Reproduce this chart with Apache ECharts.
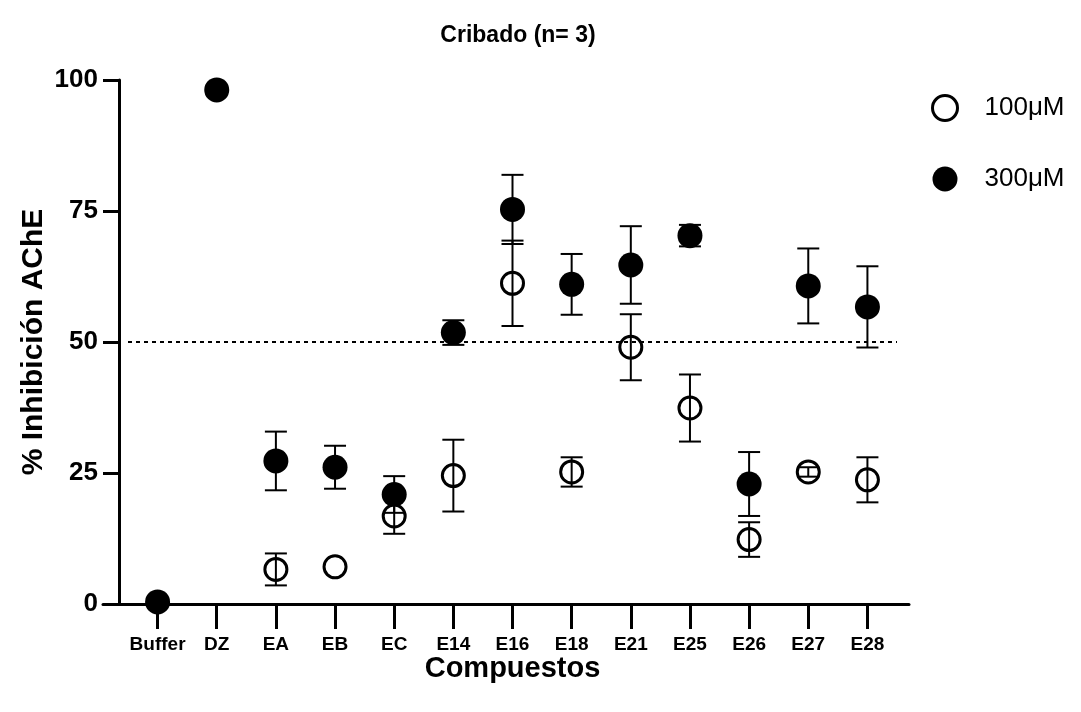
<!DOCTYPE html>
<html>
<head>
<meta charset="utf-8">
<script src="https://cdn.jsdelivr.net/npm/echarts@6/dist/echarts.min.js"></script>
<style>html,body{margin:0;padding:0;background:#fff}#c{width:1081px;height:712px}</style>
</head>
<body>
<div id="c"></div>
<script>
const categories = ['Buffer','DZ','EA','EB','EC','E14','E16','E18','E21','E25','E26','E27','E28'];
const mean100 = [null, null, 6.6, 7.1, 16.8, 24.5, 61.2, 25.2, 49.0, 37.4, 12.3, 25.2, 23.7];
const sd100   = [null, null, 3.05, 0, 3.4, 6.85, 8.15, 2.8, 6.3, 6.4, 3.3, 0.9, 4.3];
const mean300 = [0.4, 98.1, 27.3, 26.1, 20.9, 51.8, 75.3, 61.0, 64.7, 70.3, 22.9, 60.7, 56.7];
const sd300   = [0, 0, 5.6, 4.1, 3.5, 2.35, 6.6, 5.8, 7.4, 2.05, 6.1, 7.15, 7.75];
const yTicks = [0, 25, 50, 75, 100];
const refLine = 50;
const seriesNames = ['100\u03BCM', '300\u03BCM'];

const FONT = '"Liberation Sans", Arial, sans-serif';

function errData(means, sds) {
  const out = [];
  means.forEach((m, i) => {
    if (m != null && sds[i]) out.push([i, m - sds[i], m + sds[i]]);
  });
  return out;
}

function renderErr(params, api) {
  const x = api.value(0);
  const lo = api.coord([x, api.value(1)]);
  const hi = api.coord([x, api.value(2)]);
  const hw = 11;
  const st = { stroke: '#000', lineWidth: 2 };
  return {
    type: 'group',
    children: [
      { type: 'line', shape: { x1: lo[0], y1: lo[1], x2: hi[0], y2: hi[1] }, style: st },
      { type: 'line', shape: { x1: lo[0] - hw, y1: lo[1], x2: lo[0] + hw, y2: lo[1] }, style: st },
      { type: 'line', shape: { x1: hi[0] - hw, y1: hi[1], x2: hi[0] + hw, y2: hi[1] }, style: st }
    ]
  };
}

const chart = echarts.init(document.getElementById('c'), null, { renderer: 'canvas' });
chart.setOption({
  backgroundColor: '#fff',
  animation: false,
  title: {
    text: 'Cribado (n= 3)',
    left: 513, top: 19, textAlign: 'center',
    textStyle: { fontFamily: FONT, fontWeight: 'bold', fontSize: 23, color: '#000' }
  },
  legend: {
    orient: 'vertical',
    left: 931, top: 94,
    itemWidth: 25, itemHeight: 25, itemGap: 44,
    padding: 0,
    selectedMode: false,
    textStyle: { fontFamily: FONT, fontSize: 26, color: '#000', padding: [0, 0, 0, 22] },
    data: [
      { name: seriesNames[0], icon: 'circle', itemStyle: { color: '#fff', borderColor: '#000', borderWidth: 3 } },
      { name: seriesNames[1], icon: 'circle', itemStyle: { color: '#000', borderWidth: 0 } }
    ]
  },
  grid: [
    { left: 128, right: 184, top: 80, bottom: 108 },
    { left: 103, right: 172, top: 80, bottom: 108 }
  ],
  xAxis: [
    {
      type: 'category', gridIndex: 0, data: categories, boundaryGap: true,
      axisLine: { show: false },
      axisTick: { show: true, alignWithLabel: true, interval: 0, length: 25, lineStyle: { color: '#000', width: 3 } },
      axisLabel: { interval: 0, margin: 31, fontFamily: FONT, fontWeight: 'bold', fontSize: 19, color: '#000' },
      name: 'Compuestos', nameLocation: 'middle', nameGap: 50, nameMoveOverlap: false,
      nameTextStyle: { fontFamily: FONT, fontWeight: 'bold', fontSize: 29, color: '#000' }
    },
    {
      type: 'value', gridIndex: 1, min: 0, max: 1,
      axisLine: { show: true, lineStyle: { color: '#000', width: 3 } },
      axisTick: { show: false }, axisLabel: { show: false }, splitLine: { show: false }
    }
  ],
  yAxis: [
    {
      type: 'value', gridIndex: 0, min: 0, max: 100, interval: 25, offset: 9,
      axisLine: { show: true, lineStyle: { color: '#000', width: 3 } },
      axisTick: { show: true, length: 16, lineStyle: { color: '#000', width: 3 } },
      axisLabel: { margin: 21, fontFamily: FONT, fontWeight: 'bold', fontSize: 26, color: '#000',
                   formatter: v => yTicks.includes(v) ? String(v) : '' },
      splitLine: { show: false },
      name: '% Inhibición AChE', nameLocation: 'middle', nameGap: 70, nameRotate: 90, nameMoveOverlap: false,
      nameTextStyle: { fontFamily: FONT, fontWeight: 'bold', fontSize: 30, color: '#000' }
    },
    {
      type: 'value', gridIndex: 1, min: 0, max: 1, show: false
    }
  ],
  series: [
    {
      name: seriesNames[1], type: 'scatter', xAxisIndex: 0, yAxisIndex: 0,
      symbol: 'circle', symbolSize: 25, z: 2,
      itemStyle: { color: '#000', opacity: 1 },
      data: mean300.map((v, i) => [i, v]),
      markLine: {
        silent: true, symbol: 'none', label: { show: false },
        lineStyle: { color: '#000', width: 2, type: [4, 4] },
        data: [{ yAxis: refLine }]
      }
    },
    {
      name: seriesNames[0], type: 'scatter', xAxisIndex: 0, yAxisIndex: 0,
      symbol: 'circle', symbolSize: 22, z: 3,
      itemStyle: { color: '#fff', borderColor: '#000', borderWidth: 3, opacity: 1 },
      data: mean100.map((v, i) => [i, v]).filter(d => d[1] != null)
    },
    {
      name: 'err300', type: 'custom', xAxisIndex: 0, yAxisIndex: 0, z: 4,
      renderItem: renderErr, encode: { x: 0, y: [1, 2] },
      data: errData(mean300, sd300)
    },
    {
      name: 'err100', type: 'custom', xAxisIndex: 0, yAxisIndex: 0, z: 4,
      renderItem: renderErr, encode: { x: 0, y: [1, 2] },
      data: errData(mean100, sd100)
    }
  ]
});
</script>
</body>
</html>
